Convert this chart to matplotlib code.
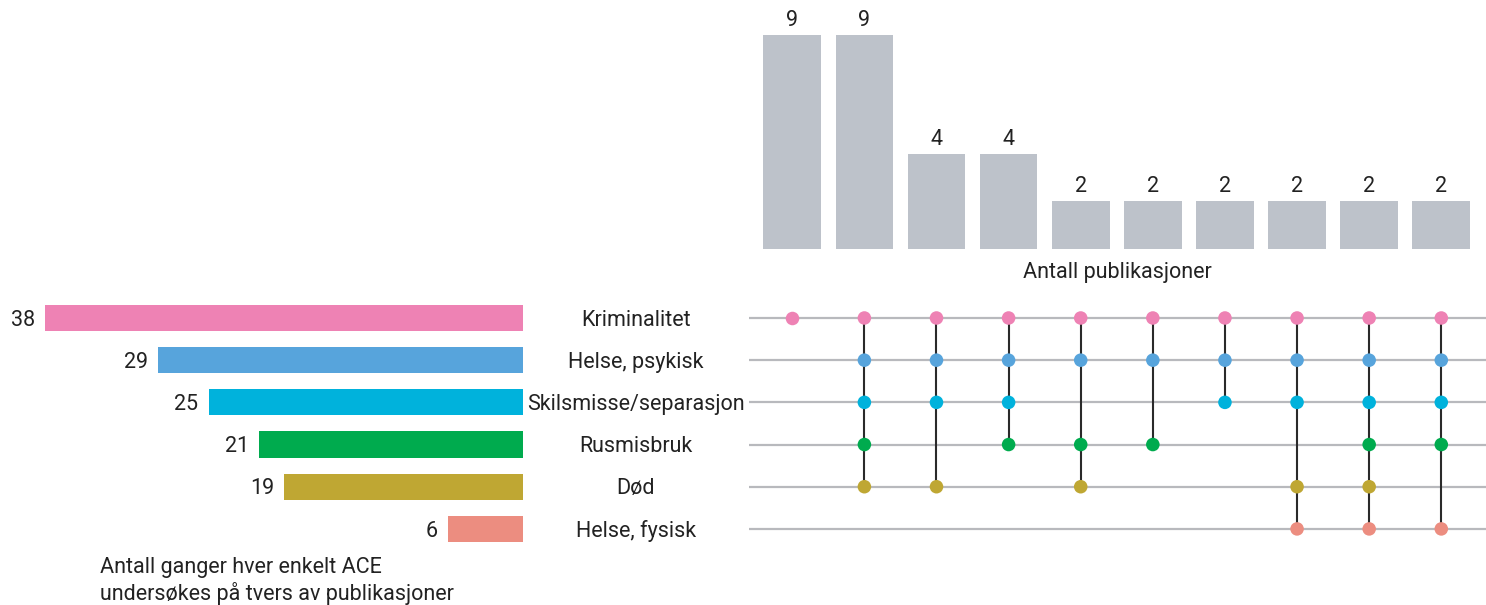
import matplotlib.pyplot as plt
from matplotlib import transforms

# Kategorier (rader) og antall ganger hver ACE undersøkes
kategorier = ['Kriminalitet', 'Helse, psykisk', 'Skilsmisse/separasjon',
              'Rusmisbruk', 'Død', 'Helse, fysisk']
antall_ace = [38, 29, 25, 21, 19, 6]
farger = ['#EE82B4', '#57A4DC', '#00B2DC', '#00AB4E', '#BFA733', '#EC8D80']

# Kombinasjoner (kolonner): hvilke rader er med, og antall publikasjoner
kombinasjoner = [
    [0],
    [0, 1, 2, 3, 4],
    [0, 1, 2, 4],
    [0, 1, 2, 3],
    [0, 1, 3, 4],
    [0, 1, 3],
    [0, 1, 2],
    [0, 1, 2, 4, 5],
    [0, 1, 2, 3, 4, 5],
    [0, 1, 2, 3, 5],
]
antall_pub = [9, 9, 4, 4, 2, 2, 2, 2, 2, 2]

plt.rcParams['font.family'] = ['Roboto', 'DejaVu Sans']
plt.rcParams['font.size'] = 15.5

W, H = 1486, 605
fig = plt.figure(figsize=(W / 100, H / 100), dpi=100)


def akser(x0, y0, x1, y1):
    # pikselkoordinater (topp-venstre origo) -> figurkoordinater
    return fig.add_axes([x0 / W, 1 - y1 / H, (x1 - x0) / W, (y1 - y0) / H])


n_rader = len(kategorier)
n_kol = len(kombinasjoner)
rader = list(range(n_rader))
kolonner = list(range(n_kol))

# --- venstre søylediagram ---
ax_v = akser(45, 296.9, 523, 550)
ax_v.barh(rader, antall_ace, height=0.62, color=farger)
for r, v in zip(rader, antall_ace):
    ax_v.text(v + 0.8, r + 0.05, str(v), ha='right', va='center', color='#222222')
ax_v.set_xlim(38, 0)
ax_v.set_ylim(n_rader - 0.5, -0.5)
ax_v.axis('off')

# kategorinavn midt mellom søylene og matrisen
trans = transforms.blended_transform_factory(fig.transFigure, ax_v.transData)
for r, navn in zip(rader, kategorier):
    ax_v.text(636 / W, r + 0.05, navn, transform=trans, ha='center', va='center',
              color='#222222', clip_on=False)

fig.text(100 / W, 1 - 557 / H, 'Antall ganger hver enkelt ACE\nundersøkes på tvers av publikasjoner',
         ha='left', va='top', color='#222222', linespacing=1.2)

# --- matrise ---
ax_m = akser(749, 296.9, 1486, 550)
ax_m.hlines(rader, -0.6, 9.62, color='#B8B9BD', linewidth=1.6, zorder=1)
for k, komb in enumerate(kombinasjoner):
    if len(komb) > 1:
        ax_m.vlines(k, min(komb), max(komb), color='#2A2A2A', linewidth=1.5, zorder=2)
    ax_m.scatter([k] * len(komb), komb, s=95, color=[farger[r] for r in komb],
                 linewidths=0, zorder=3)
ax_m.set_xlim(-0.6, 9.62)
ax_m.set_ylim(n_rader - 0.5, -0.5)
ax_m.axis('off')

# --- søyler øverst ---
ax_t = akser(749, 0, 1486, 249)
ax_t.bar(kolonner, antall_pub, width=0.8, color='#BDC2CA')
for k, v in zip(kolonner, antall_pub):
    ax_t.text(k, v + 0.62, str(v), ha='center', va='center', color='#222222')
ax_t.set_xlim(-0.6, 9.62)
ax_t.set_ylim(0, 249 / 23.8)
ax_t.axis('off')
fig.text(1117 / W, 1 - 273 / H, 'Antall publikasjoner', ha='center', va='center',
         color='#222222')

fig.savefig('out.png', dpi=100, facecolor='white')
